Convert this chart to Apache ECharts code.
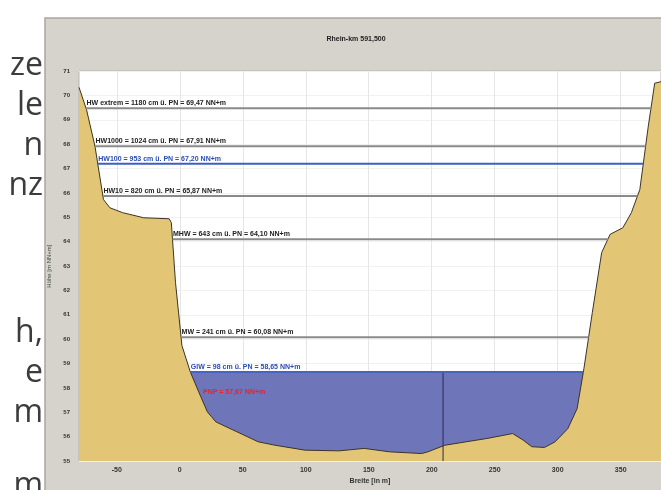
<!DOCTYPE html>
<html>
<head>
<meta charset="utf-8">
<script src="https://cdn.jsdelivr.net/npm/echarts@6/dist/echarts.min.js"></script>
<style>
html,body{margin:0;padding:0;background:#fff;}
#chart{width:661px;height:490px;}
</style>
</head>
<body>
<div id="chart"></div>
<script>
// ---- data ----
const chartTitle = 'Rhein-km 591,500';
const xAxisName = 'Breite [in m]';
const yAxisName = 'Höhe [m NN+m]';
const xTicks = [-50, 0, 50, 100, 150, 200, 250, 300, 350];
const groundX = [-80, -74, -67.3, -60.6, -55.5, -45.4, -28.6, -8.4, -6.7, -3.4, 1.7, 8.4, 15.1, 21.9, 28.6, 45.4, 62.3, 75.7, 99.3, 126.2, 146.4, 166.6, 191.9, 196.9, 210.4, 227.2, 244, 264.2, 272.6, 279.4, 289.5, 297.9, 308, 315.4, 320.8, 327.5, 334.9, 341.6, 351.7, 358.5, 365.2, 371.9, 377, 382];
const groundY = [70.33, 69.41, 67.91, 65.73, 65.39, 65.19, 64.98, 64.94, 64.78, 62.33, 59.74, 58.65, 57.83, 57.02, 56.61, 56.20, 55.79, 55.65, 55.45, 55.42, 55.52, 55.38, 55.31, 55.38, 55.65, 55.79, 55.93, 56.13, 55.86, 55.59, 55.56, 55.79, 56.33, 57.15, 58.79, 61.10, 63.55, 64.30, 64.57, 65.19, 66.14, 68.73, 70.50, 70.56];
const levelNames = ['HW extrem', 'HW1000', 'HW100', 'HW10', 'MHW', 'MW', 'GlW'];
const levelCm = [1180, 1024, 953, 820, 643, 241, 98];
const levelNN = [69.47, 67.91, 67.20, 65.87, 64.10, 60.08, 58.65];
const pnpName = 'PNP';
const pnpNN = 57.67;
const waterLevel = 58.65;
const streamLineX = 209;
const sideText = ['ze', 'le', 'n', 'nz', 'h,', 'e', 'm', 'm'];
const sideTextY = [66, 106, 146, 186, 333, 373, 413, 486];

// ---- styles ----
const levelColors = ['#8a8a8a', '#8a8a8a', '#3d5fc4', '#8a8a8a', '#8a8a8a', '#8a8a8a', '#4a63c0'];
const levelTextColors = ['#222', '#222', '#2a4bb0', '#222', '#222', '#222', '#2a4bb0'];
const groundColor = '#e2c676';
const waterColor = '#6e76b9';

function crossings(level) {
  let xl = null, xr = null;
  for (let i = 0; i < groundX.length - 1; i++) {
    const a = groundY[i] - level, b = groundY[i + 1] - level;
    if (a * b <= 0 && a !== b) { xl = groundX[i] + (groundX[i + 1] - groundX[i]) * a / (a - b); break; }
  }
  for (let i = groundX.length - 2; i >= 0; i--) {
    const a = groundY[i] - level, b = groundY[i + 1] - level;
    if (a * b <= 0 && a !== b) { xr = groundX[i] + (groundX[i + 1] - groundX[i]) * a / (a - b); break; }
  }
  return [xl, xr];
}
const fmt = v => v.toFixed(2).replace('.', ',');

const series = [];
const wc = crossings(waterLevel);
series.push({
  type: 'line', data: [[wc[0], waterLevel], [wc[1], waterLevel]],
  showSymbol: false, lineStyle: { width: 0 },
  areaStyle: { color: waterColor, opacity: 1, origin: 'start' }, silent: true
});
series.push({
  type: 'line', data: [[streamLineX, 55], [streamLineX, waterLevel]],
  showSymbol: false, lineStyle: { color: '#2b2b4a', width: 1 }, silent: true
});
series.push({
  type: 'line', data: groundX.map((x, i) => [x, groundY[i]]),
  showSymbol: false, lineStyle: { color: '#3b3426', width: 1 },
  areaStyle: { color: groundColor, opacity: 1, origin: 'start' }, silent: true
});
levelNN.forEach((lv, i) => {
  const c = crossings(lv);
  series.push({
    type: 'line', silent: true, symbol: 'circle', symbolSize: 1,
    itemStyle: { color: 'rgba(0,0,0,0)' },
    lineStyle: { color: levelColors[i], width: 2 },
    data: [
      { value: [c[0], lv], label: { show: true, position: [1, -1], align: 'left', verticalAlign: 'bottom',
        formatter: `${levelNames[i]} = ${levelCm[i]} cm ü. PN = ${fmt(lv)} NN+m`,
        fontSize: 7, fontWeight: 'bold', color: levelTextColors[i], fontFamily: 'Liberation Sans' } },
      { value: [c[1], lv] }
    ]
  });
});
const pc = crossings(pnpNN);
series.push({
  type: 'line', silent: true, symbol: 'circle', symbolSize: 1,
  itemStyle: { color: 'rgba(0,0,0,0)' }, lineStyle: { width: 0 },
  data: [{ value: [pc[0], pnpNN], label: { show: true, position: [3, 0], align: 'left', verticalAlign: 'bottom',
    formatter: `${pnpName} = ${fmt(pnpNN)} NN+m`, fontSize: 7, fontWeight: 'bold', color: '#e8232a', fontFamily: 'Liberation Sans' } }]
});

const graphics = [
  { type: 'rect', z: -100, shape: { x: 45, y: 18, width: 630, height: 480 },
    style: { fill: '#d6d3cd', stroke: '#aaa69f', lineWidth: 1.5 } },
  { type: 'text', z: 10, style: { text: chartTitle, x: 356, y: 39, align: 'center', verticalAlign: 'middle',
    fontSize: 7, fontWeight: 'bold', fill: '#222', fontFamily: 'Liberation Sans' } }
];
sideText.forEach((t, i) => {
  graphics.push({ type: 'text', z: 10, style: { text: t, x: 43, y: sideTextY[i], align: 'right', verticalAlign: 'middle',
    fontSize: 32, fill: '#3c3c3c', fontFamily: 'Open Sans' } });
});

const chart = echarts.init(document.getElementById('chart'), null, { renderer: 'canvas' });
chart.setOption({
  animation: false,
  backgroundColor: '#ffffff',
  grid: { left: 79, right: 0, top: 71, bottom: 27, show: true, backgroundColor: '#ffffff', borderColor: '#b5b5b5', borderWidth: 1 },
  xAxis: {
    type: 'value', min: -80, max: 382,
    name: xAxisName, nameLocation: 'middle', nameGap: 15,
    nameTextStyle: { fontSize: 7, color: '#333', fontFamily: 'Liberation Sans', fontWeight: 'bold' },
    axisLine: { show: false }, axisTick: { show: false, customValues: xTicks },
    axisLabel: { customValues: xTicks, fontSize: 7, color: '#333', margin: 5, fontFamily: 'Liberation Sans', fontWeight: 'bold' },
    splitLine: { show: true, lineStyle: { color: '#e6e6e6', width: 1 } }
  },
  yAxis: {
    type: 'value', min: 55, max: 71, interval: 1,
    name: yAxisName, nameLocation: 'middle', nameGap: 26, nameRotate: 90,
    nameTextStyle: { fontSize: 6, color: '#444', fontFamily: 'Liberation Sans' },
    axisLine: { show: false }, axisTick: { show: false },
    axisLabel: { fontSize: 6, color: '#333', margin: 9, fontFamily: 'Liberation Sans', fontWeight: 'bold' },
    splitLine: { show: true, lineStyle: { color: '#f1f1f1', width: 1 } }
  },
  graphic: graphics,
  series: series
});
</script>
</body>
</html>
